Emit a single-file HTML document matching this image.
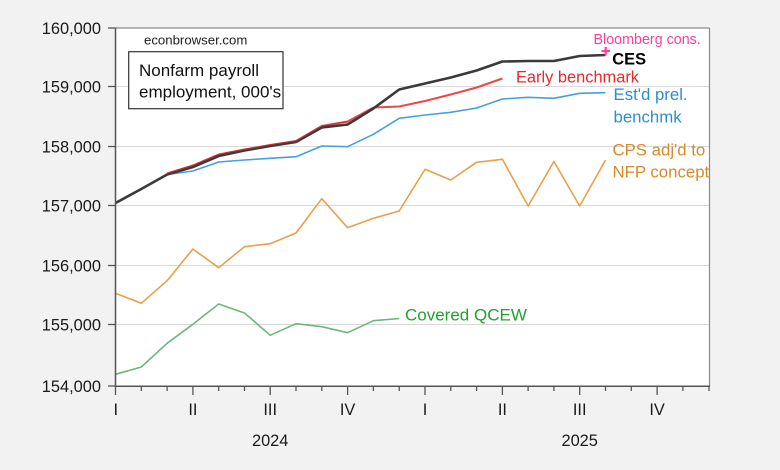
<!DOCTYPE html>
<html><head><meta charset="utf-8"><style>
html,body{margin:0;padding:0;background:#f2f2f2;}
svg{display:block;font-family:"Liberation Sans",Arial,sans-serif;}
</style></head><body>
<svg width="780" height="470" viewBox="0 0 780 470" xmlns="http://www.w3.org/2000/svg">
<rect x="0" y="0" width="780" height="470" fill="#f2f2f2"/>
<rect x="115.5" y="28" width="194" height="358" fill="#fff"/>
<rect x="115.5" y="28" width="594" height="358" fill="#fff"/>
<g stroke="#d9d9d9" stroke-width="1">
<line x1="116" y1="86.5" x2="709" y2="86.5"/>
<line x1="116" y1="146.5" x2="709" y2="146.5"/>
<line x1="116" y1="205.5" x2="709" y2="205.5"/>
<line x1="116" y1="265.5" x2="709" y2="265.5"/>
<line x1="116" y1="324.5" x2="709" y2="324.5"/>
</g>
<!-- series -->
<polyline fill="none" stroke="#e8a04a" stroke-width="1.6" stroke-linejoin="round" points="115.5,293.3 141.3,303.3 167.1,280.7 192.9,249 218.7,267.7 244.5,246.7 270.2,243.7 296,233 321.8,198.7 347.6,227.7 373.4,218.3 399.2,211 425,169.3 450.8,180 476.6,162.3 502.4,159.3 528.1,206 553.9,161.5 579.7,206 605.5,160.2"/>
<polyline fill="none" stroke="#6db77f" stroke-width="1.6" stroke-linejoin="round" points="115.5,374.3 141.3,367 167.1,343.3 192.9,324.3 218.7,304 244.5,313 270.2,335.3 296,323.7 321.8,326.7 347.6,332.7 373.4,320.7 399.2,318.5"/>
<polyline fill="none" stroke="#45a0dc" stroke-width="1.6" stroke-linejoin="round" points="115.5,203 141.3,189 167.1,174.5 192.9,171 218.7,162 244.5,160 270.2,158.3 296,156.7 321.8,146 347.6,146.7 373.4,134.3 399.2,118.3 425,115 450.8,112.3 476.6,108 502.4,99 528.1,97.3 553.9,98.3 579.7,93.3 605.5,92.7"/>
<polyline fill="none" stroke="#e84a4a" stroke-width="2" stroke-linejoin="round" points="167.1,173.5 192.9,165.5 218.7,154.5 244.5,149.5 270.2,145 296,141 321.8,126 347.6,121.5 373.4,107.5 399.2,106.5 425,101 450.8,94.5 476.6,87.5 502.4,78.5"/>
<polyline fill="none" stroke="#3a3a3a" stroke-width="2.6" stroke-linejoin="round" points="115.5,203 141.3,189 167.1,174.5 192.9,167 218.7,156 244.5,150.5 270.2,146 296,142 321.8,127.5 347.6,124.5 373.4,108.5 399.2,89.5 425,83.5 450.8,77.5 476.6,70.5 502.4,61.5 528.1,61 553.9,61 579.7,56 605.5,55"/>
<polyline fill="none" stroke="#c43030" stroke-width="1.2" stroke-linejoin="round" opacity="0.8" points="167.1,173.3 192.9,165.3 218.7,154.3 244.5,149.3 270.2,144.8 296,140.8 321.8,125.8 347.6,121.5"/>
<!-- bloomberg cross -->
<g stroke="#ff3e9e" stroke-width="2.2">
<line x1="601.5" y1="51" x2="610" y2="51"/>
<line x1="605.7" y1="46.8" x2="605.7" y2="55.3"/>
</g>
<!-- frame -->
<g fill="none">
<line x1="115.5" y1="28" x2="709.5" y2="28" stroke="#8a8a8a" stroke-width="1.2"/>
<line x1="709.5" y1="28" x2="709.5" y2="386" stroke="#8a8a8a" stroke-width="1.2"/>
<line x1="115.5" y1="27.5" x2="115.5" y2="386.5" stroke="#555" stroke-width="1.5"/>
<line x1="115" y1="386.3" x2="710" y2="386.3" stroke="#555" stroke-width="1.5"/>
</g>
<!-- y ticks -->
<g stroke="#555" stroke-width="1.3">
<line x1="108" y1="28" x2="115" y2="28"/>
<line x1="108" y1="86.5" x2="115" y2="86.5"/>
<line x1="108" y1="146.5" x2="115" y2="146.5"/>
<line x1="108" y1="205.5" x2="115" y2="205.5"/>
<line x1="108" y1="265.5" x2="115" y2="265.5"/>
<line x1="108" y1="324.5" x2="115" y2="324.5"/>
<line x1="108" y1="386" x2="115" y2="386"/>
</g>
<!-- x ticks -->
<g stroke="#555" stroke-width="1.3">
<line x1="115.5" y1="386" x2="115.5" y2="395"/>
<line x1="141.3" y1="386" x2="141.3" y2="391"/>
<line x1="167.1" y1="386" x2="167.1" y2="391"/>
<line x1="192.9" y1="386" x2="192.9" y2="395"/>
<line x1="218.7" y1="386" x2="218.7" y2="391"/>
<line x1="244.5" y1="386" x2="244.5" y2="391"/>
<line x1="270.2" y1="386" x2="270.2" y2="395"/>
<line x1="296" y1="386" x2="296" y2="391"/>
<line x1="321.8" y1="386" x2="321.8" y2="391"/>
<line x1="347.6" y1="386" x2="347.6" y2="395"/>
<line x1="373.4" y1="386" x2="373.4" y2="391"/>
<line x1="399.2" y1="386" x2="399.2" y2="391"/>
<line x1="425" y1="386" x2="425" y2="395"/>
<line x1="450.8" y1="386" x2="450.8" y2="391"/>
<line x1="476.6" y1="386" x2="476.6" y2="391"/>
<line x1="502.4" y1="386" x2="502.4" y2="395"/>
<line x1="528.1" y1="386" x2="528.1" y2="391"/>
<line x1="553.9" y1="386" x2="553.9" y2="391"/>
<line x1="579.7" y1="386" x2="579.7" y2="395"/>
<line x1="605.5" y1="386" x2="605.5" y2="391"/>
<line x1="631.3" y1="386" x2="631.3" y2="391"/>
<line x1="657.1" y1="386" x2="657.1" y2="395"/>
<line x1="682.9" y1="386" x2="682.9" y2="391"/>
<line x1="709" y1="386" x2="709" y2="391"/>
</g>
<!-- y labels -->
<g font-size="16.4" fill="#1a1a1a" text-anchor="end">
<text x="101" y="33.8">160,000</text>
<text x="101" y="92.3">159,000</text>
<text x="101" y="152.3">158,000</text>
<text x="101" y="211.3">157,000</text>
<text x="101" y="271.3">156,000</text>
<text x="101" y="330.3">155,000</text>
<text x="101" y="391.8">154,000</text>
</g>
<!-- x labels -->
<g font-size="16.4" fill="#1a1a1a" text-anchor="middle">
<text x="115.8" y="415">I</text>
<text x="192.9" y="415">II</text>
<text x="270.2" y="415">III</text>
<text x="347.6" y="415">IV</text>
<text x="425" y="415">I</text>
<text x="502.4" y="415">II</text>
<text x="579.7" y="415">III</text>
<text x="657.1" y="415">IV</text>
<text x="270.2" y="446">2024</text>
<text x="579.7" y="446">2025</text>
</g>
<!-- annotations -->
<text x="144" y="44.5" font-size="13.2" fill="#222">econbrowser.com</text>
<rect x="128.7" y="51.7" width="154.3" height="57" fill="#fff" stroke="#333" stroke-width="1.2"/>
<text x="139" y="76" font-size="17" fill="#111">Nonfarm payroll</text>
<text x="139" y="97.5" font-size="17" fill="#111">employment, 000's</text>
<text x="593.5" y="44.2" font-size="14.3" fill="#ff3e9e">Bloomberg cons.</text>
<text x="612.3" y="64.5" font-size="16.4" font-weight="bold" fill="#000">CES</text>
<text x="516" y="82.5" font-size="16.4" fill="#e82a2a">Early benchmark</text>
<text x="613.5" y="100" font-size="16.8" fill="#2a8fd0">Est'd prel.</text>
<text x="613.5" y="122.3" font-size="16.8" fill="#2a8fd0">benchmk</text>
<text x="612.5" y="155.7" font-size="16.8" fill="#d68a2b">CPS adj'd to</text>
<text x="612.5" y="177.7" font-size="16.8" fill="#d68a2b">NFP concept</text>
<text x="405" y="320.7" font-size="17" fill="#22a030">Covered QCEW</text>
</svg>
</body></html>
